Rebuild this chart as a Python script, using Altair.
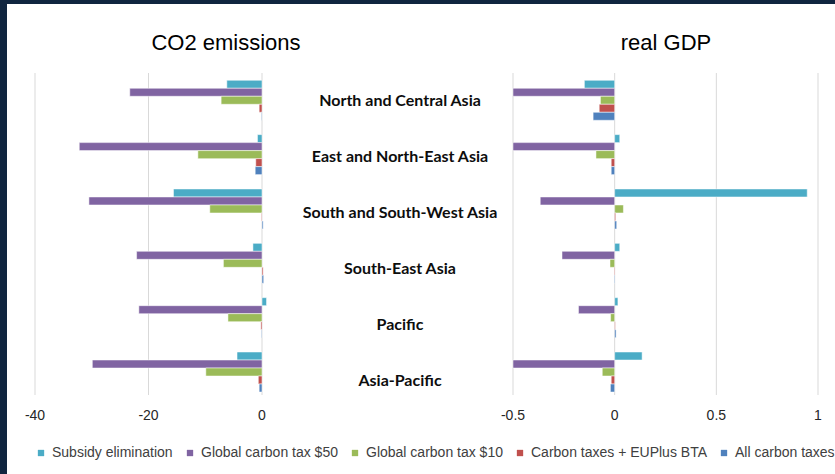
import altair as alt
import pandas as pd

# ---------------- data ----------------
regions = [
    "North and Central Asia",
    "East and North-East Asia",
    "South and South-West Asia",
    "South-East Asia",
    "Pacific",
    "Asia-Pacific",
]
series = [
    "Subsidy elimination",
    "Global carbon tax $50",
    "Global carbon tax $10",
    "Carbon taxes + EUPlus BTA",
    "All carbon taxes",
]
colors = ["#4BACC6", "#8064A2", "#9BBB59", "#C0504D", "#4F81BD"]

# CO2 emissions (% change), one list per series, in region order
co2_subsidy = [-6.2, -0.8, -15.6, -1.6, 0.8, -4.4]
co2_tax50 = [-23.3, -32.2, -30.5, -22.1, -21.7, -29.9]
co2_tax10 = [-7.2, -11.3, -9.2, -6.8, -6.0, -9.9]
co2_eubta = [-0.5, -1.1, -0.1, 0.2, -0.2, -0.65]
co2_all = [-0.1, -1.2, 0.2, 0.3, -0.1, -0.5]

# real GDP (% change)
gdp_subsidy = [-0.149, 0.025, 0.947, 0.025, 0.016, 0.135]
gdp_tax50 = [-0.6, -0.55, -0.366, -0.259, -0.178, -0.55]
gdp_tax10 = [-0.07, -0.092, 0.043, -0.023, -0.02, -0.061]
gdp_eubta = [-0.076, -0.017, 0.005, -0.003, 0.003, -0.017]
gdp_all = [-0.106, -0.017, 0.01, -0.003, 0.007, -0.021]

co2_ticks = [-40, -20, 0]
gdp_ticks = [-0.5, 0, 0.5, 1]
gdp_tick_labels = ["-0.5", "0", "0.5", "1"]

panel_titles = ["CO2 emissions", "real GDP"]


def long_frame(lists):
    rows = []
    for s, vals in zip(series, lists):
        for r, v in zip(regions, vals):
            rows.append({"region": r, "series": s, "value": v})
    return pd.DataFrame(rows)


df_co2 = long_frame([co2_subsidy, co2_tax50, co2_tax10, co2_eubta, co2_all])
df_gdp = long_frame([gdp_subsidy, gdp_tax50, gdp_tax10, gdp_eubta, gdp_all])
df_co2_ticks = pd.DataFrame({"t": co2_ticks, "label": [str(t) for t in co2_ticks]})
df_gdp_ticks = pd.DataFrame({"t": gdp_ticks, "label": gdp_tick_labels})
df_regions = pd.DataFrame({"region": regions})

# ---------------- styling ----------------
NAVY = "#10253F"
GRID = "#D9D9D9"
FONT = "Liberation Sans"

left_scale = alt.Scale(domain=[-40, 0], range=[35, 262], nice=False, zero=False)
right_scale = alt.Scale(domain=[-0.5, 1], range=[513, 818], nice=False, zero=False, clamp=True)
bar_y_scale = alt.Scale(domain=regions, range=[73.1, 399.2], paddingInner=0.264, paddingOuter=0.132)
label_y_scale = alt.Scale(domain=regions, range=[73, 409], paddingInner=0, paddingOuter=0)

legend = alt.Legend(
    title=None,
    orient="none",
    direction="horizontal",
    legendX=34,
    legendY=446,
    symbolType="square",
    symbolSize=40,
    symbolStrokeWidth=0,
    labelFont=FONT,
    labelFontSize=14,
    labelColor="#404040",
    labelOffset=4,
    labelLimit=400,
    columnPadding=10,
    padding=0,
)
color = alt.Color("series:N", scale=alt.Scale(domain=series, range=colors), legend=legend)

one = pd.DataFrame({"a": [0]})

border_left = alt.Chart(one).mark_rect(color=NAVY).encode(
    x=alt.value(0), x2=alt.value(7), y=alt.value(0), y2=alt.value(474)
)
border_top = alt.Chart(one).mark_rect(color=NAVY).encode(
    x=alt.value(0), x2=alt.value(835), y=alt.value(0), y2=alt.value(4)
)


def panel(df, df_ticks, xscale):
    grid = alt.Chart(df_ticks).mark_rule(color=GRID, strokeWidth=1).encode(
        x=alt.X("t:Q", scale=xscale, axis=None), y=alt.value(73), y2=alt.value(395)
    )
    ticks = alt.Chart(df_ticks).mark_text(
        font=FONT, fontSize=14, color="#262626", baseline="middle", align="center"
    ).encode(x=alt.X("t:Q", scale=xscale, axis=None), y=alt.value(416), text="label:N")
    bars = alt.Chart(df).mark_bar(stroke="white", strokeWidth=0.5).encode(
        x=alt.X("value:Q", scale=xscale, axis=None, stack=None),
        x2=alt.datum(0),
        y=alt.Y("region:N", sort=regions, scale=bar_y_scale, axis=None),
        yOffset=alt.YOffset("series:N", sort=series, scale=alt.Scale(domain=series)),
        color=color,
    )
    return [grid, ticks, bars]


region_labels = alt.Chart(df_regions).mark_text(
    font="Lato", fontWeight="bold", fontSize=16, color="#0D0D0D", align="center", baseline="middle"
).encode(
    y=alt.Y("region:N", sort=regions, scale=label_y_scale, axis=None),
    x=alt.value(400),
    text="region:N",
)

title_left = alt.Chart(one).mark_text(
    text=panel_titles[0], font=FONT, fontSize=22, color="#000000", align="center", baseline="middle"
).encode(x=alt.value(226), y=alt.value(43))
title_right = alt.Chart(one).mark_text(
    text=panel_titles[1], font=FONT, fontSize=22, color="#000000", align="center", baseline="middle"
).encode(x=alt.value(666), y=alt.value(43))

layers = (
    [border_left, border_top]
    + panel(df_co2, df_co2_ticks, left_scale)
    + panel(df_gdp, df_gdp_ticks, right_scale)
    + [region_labels, title_left, title_right]
)

chart = (
    alt.layer(*layers)
    .resolve_scale(x="independent", y="independent")
    .properties(width=835, height=474, padding=0, autosize=alt.AutoSizeParams(type="none"), background="white")
    .configure_view(stroke=None)
)

chart.save("out.html", embed_options={"renderer": "svg", "actions": False})
